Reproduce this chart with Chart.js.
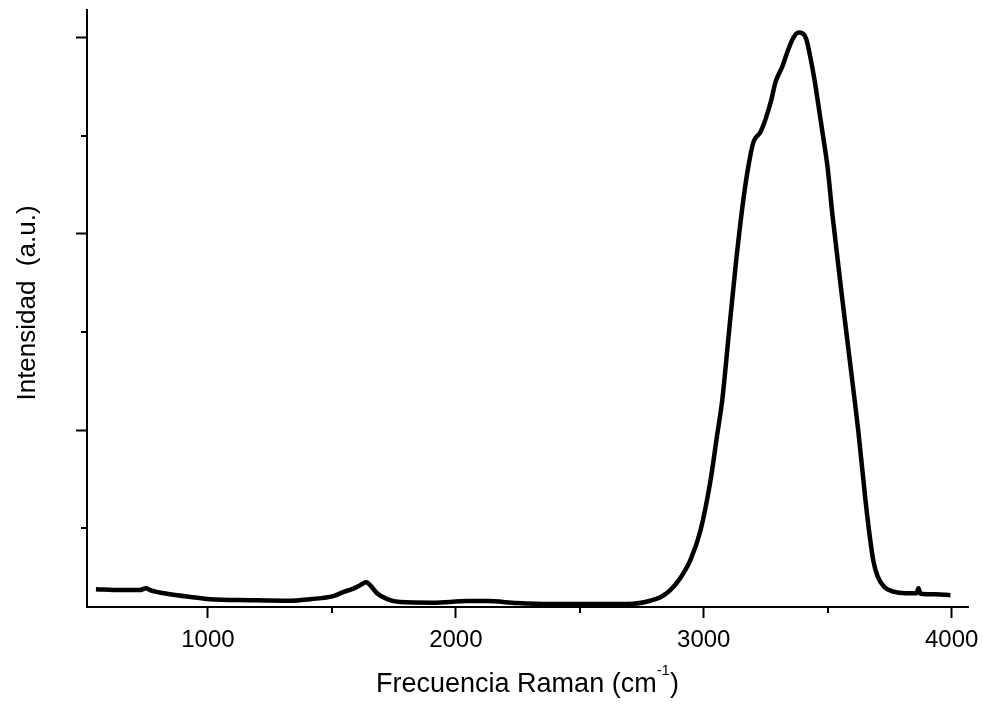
<!DOCTYPE html>
<html>
<head>
<meta charset="utf-8">
<script src="https://cdn.jsdelivr.net/npm/chart.js@4.4.1/dist/chart.umd.min.js"></script>
<style>
  html, body { margin: 0; padding: 0; background: #fff; }
  #wrap { width: 983px; height: 706px; }
</style>
</head>
<body>
<div id="wrap"><canvas id="ramanChart"></canvas></div>
<script>
// Raman spectrum (wavenumber in cm-1, intensity in arbitrary units)
const wavenumbers = [548, 645, 725, 750, 766, 847, 939, 1008, 1170, 1331, 1412, 1505, 1545, 1581, 1614, 1638,
    1658, 1682, 1723, 1775, 1908, 2046, 2126, 2247, 2381, 2583, 2716, 2784, 2825, 2865, 2905, 2946,
    2986, 3026, 3054, 3075, 3099, 3127, 3160, 3180, 3200, 3228, 3249, 3273, 3289, 3317, 3341, 3362,
    3382, 3400, 3414, 3430, 3446, 3462, 3479, 3499, 3519, 3559, 3592, 3624, 3652, 3668, 3684, 3701, 3729,
    3765, 3814, 3858, 3866, 3874, 3935, 3995];
const intensity = [0.191, 0.186, 0.186, 0.196, 0.186, 0.165, 0.150, 0.140, 0.135, 0.132, 0.140, 0.155, 0.176,
    0.191, 0.211, 0.226, 0.206, 0.170, 0.140, 0.125, 0.122, 0.130, 0.130, 0.120, 0.115, 0.115, 0.117, 0.132,
    0.150, 0.186, 0.247, 0.339, 0.486, 0.735, 0.975, 1.158, 1.463, 1.819, 2.176, 2.344, 2.466, 2.517, 2.583,
    2.684, 2.771, 2.852, 2.939, 2.999, 3.025, 3.020, 2.990, 2.900, 2.790, 2.660, 2.517, 2.344, 2.099, 1.667,
    1.326, 0.990, 0.649, 0.476, 0.336, 0.257, 0.201, 0.178, 0.170, 0.170, 0.196, 0.168, 0.165, 0.160];

const xMajorTicks = [1000, 2000, 3000, 4000];
const xMinorTicks = [1500, 2500, 3500];
const yMajorTicks = [1, 2, 3];
const yMinorTicks = [0.5, 1.5, 2.5];

const xTitle = 'Frecuencia Raman (cm';
const xTitleSup = '-1';
const xTitleEnd = ')';
const yTitle = 'Intensidad  (a.u.)';

const FONT = '"Liberation Sans", Arial, Helvetica, sans-serif';

// minor ticks + axis titles (the x title needs a superscript)
const axisExtras = {
    id: 'axisExtras',
    afterDraw(chart) {
        const ctx = chart.ctx;
        const xs = chart.scales.x;
        const ys = chart.scales.y;
        ctx.save();
        ctx.strokeStyle = '#000';
        ctx.lineWidth = 2;
        ctx.beginPath();
        xMinorTicks.forEach(v => {
            const px = Math.round(xs.getPixelForValue(v));
            ctx.moveTo(px, xs.top);
            ctx.lineTo(px, xs.top + 6);
        });
        yMinorTicks.forEach(v => {
            const py = Math.round(ys.getPixelForValue(v));
            ctx.moveTo(ys.right, py);
            ctx.lineTo(ys.right - 6, py);
        });
        ctx.stroke();

        ctx.fillStyle = '#000';
        ctx.textBaseline = 'alphabetic';
        ctx.textAlign = 'left';
        ctx.font = '27px ' + FONT;
        const w1 = ctx.measureText(xTitle).width;
        const w3 = ctx.measureText(xTitleEnd).width;
        ctx.font = '15px ' + FONT;
        const w2 = ctx.measureText(xTitleSup).width;
        const cx = (chart.chartArea.left + chart.chartArea.right) / 2;
        const x0 = cx - (w1 + w2 + w3) / 2;
        ctx.font = '27px ' + FONT;
        ctx.fillText(xTitle, x0, 692);
        ctx.font = '15px ' + FONT;
        ctx.fillText(xTitleSup, x0 + w1, 675);
        ctx.font = '27px ' + FONT;
        ctx.fillText(xTitleEnd, x0 + w1 + w2, 692);

        ctx.translate(35, 303);
        ctx.rotate(-Math.PI / 2);
        ctx.textAlign = 'center';
        ctx.font = '26px ' + FONT;
        ctx.fillText(yTitle, 0, 0);
        ctx.restore();
    }
};

const ctx = document.getElementById('ramanChart').getContext('2d');

new Chart(ctx, {
    type: 'line',
    data: {
        datasets: [{
            data: wavenumbers.map((x, i) => ({ x: x, y: intensity[i] })),
            borderColor: '#000',
            borderWidth: 4.5,
            pointRadius: 0,
            cubicInterpolationMode: 'monotone',
            fill: false
        }]
    },
    options: {
        responsive: true,
        maintainAspectRatio: false,
        animation: false,
        layout: { padding: { top: 10, right: 15, left: 0, bottom: 0 } },
        plugins: {
            legend: { display: false },
            tooltip: { enabled: false }
        },
        scales: {
            x: {
                type: 'linear',
                min: 512,
                max: 4066,
                afterBuildTicks: s => { s.ticks = xMajorTicks.map(v => ({ value: v })); },
                afterFit: s => { s.height = 99; s.paddingLeft = 0; s.paddingRight = 0; },
                ticks: {
                    color: '#000',
                    font: { family: FONT, size: 24 },
                    padding: 8,
                    maxRotation: 0,
                    autoSkip: false,
                    callback: v => String(v)
                },
                grid: {
                    drawOnChartArea: false,
                    tickLength: 11,
                    tickWidth: 2,
                    tickColor: '#000',
                    color: '#000'
                },
                border: { color: '#000', width: 2 }
            },
            y: {
                min: 0.1,
                max: 3.14,
                afterBuildTicks: s => { s.ticks = yMajorTicks.map(v => ({ value: v })); },
                afterFit: s => { s.width = 87; },
                ticks: { display: false },
                grid: {
                    drawOnChartArea: false,
                    tickLength: 11,
                    tickWidth: 2,
                    tickColor: '#000',
                    color: '#000'
                },
                border: { color: '#000', width: 2 }
            }
        }
    },
    plugins: [axisExtras]
});
</script>
</body>
</html>
